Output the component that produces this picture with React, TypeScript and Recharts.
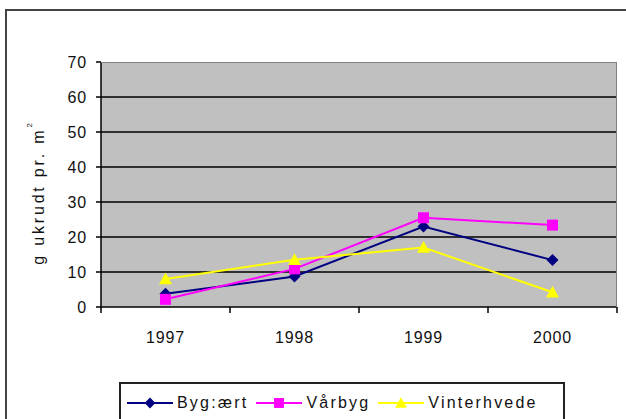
import React from "react";
import { LineChart, Line, XAxis, YAxis, CartesianGrid } from "recharts";

const years = ["1997", "1998", "1999", "2000"];
const bygAert = [3.8, 8.7, 23, 13.4];
const vaarbyg = [2.2, 10.9, 25.5, 23.4];
const vinterhvede = [8, 13.5, 17, 4.2];
const yTicks = [0, 10, 20, 30, 40, 50, 60, 70];

const FONT = "'Liberation Sans', Arial, sans-serif";

type Shape = "diamond" | "square" | "triangle";

const series: { key: string; name: string; color: string; shape: Shape }[] = [
  { key: "bygAert", name: "Byg:ært", color: "#000080", shape: "diamond" },
  { key: "vaarbyg", name: "Vårbyg", color: "#FF00FF", shape: "square" },
  { key: "vinterhvede", name: "Vinterhvede", color: "#FFFF00", shape: "triangle" },
];

const data = years.map((year, i) => ({
  year,
  bygAert: bygAert[i],
  vaarbyg: vaarbyg[i],
  vinterhvede: vinterhvede[i],
}));

function Marker({ shape, cx, cy, color, s = 1 }: { shape: Shape; cx: number; cy: number; color: string; s?: number }) {
  if (shape === "diamond") {
    const r = 6 * s;
    return <path d={`M${cx},${cy - r}L${cx + r},${cy}L${cx},${cy + r}L${cx - r},${cy}Z`} fill={color} />;
  }
  if (shape === "square") {
    const r = 5.5 * s;
    return <rect x={cx - r} y={cy - r} width={r * 2} height={r * 2} fill={color} />;
  }
  const r = 6.5 * s;
  return <path d={`M${cx},${cy - r}L${cx + r},${cy + r * 0.8}L${cx - r},${cy + r * 0.8}Z`} fill={color} />;
}

function dotFor(shape: Shape, color: string) {
  return (props: any) => {
    const { cx, cy, index } = props;
    if (cx == null || cy == null) return <g key={index} />;
    return (
      <g key={index}>
        <Marker shape={shape} cx={cx} cy={cy} color={color} />
      </g>
    );
  };
}

function XTick(props: any) {
  const { x, y, payload, index } = props;
  const half = payload?.offset || 64.5;
  return (
    <g>
      <line x1={x - half} y1={y - 8} x2={x - half} y2={y - 2} stroke="#000" strokeWidth={1.5} />
      {index === years.length - 1 && (
        <line x1={x + half} y1={y - 8} x2={x + half} y2={y - 2} stroke="#000" strokeWidth={1.5} />
      )}
      <text
        x={x}
        y={y + 22}
        textAnchor="middle"
        dominantBaseline="central"
        fill="#111"
        fontSize={16}
        fontFamily={FONT}
        letterSpacing={0.8}
      >
        {payload.value}
      </text>
    </g>
  );
}

function YTick(props: any) {
  const { x, y, payload } = props;
  return (
    <text
      x={x}
      y={y}
      textAnchor="end"
      dominantBaseline="central"
      fill="#111"
      fontSize={16}
      fontFamily={FONT}
      letterSpacing={0.8}
    >
      {payload.value}
    </text>
  );
}

function YLabel(props: any) {
  const { viewBox } = props;
  const cx = viewBox.x - 3;
  const cy = viewBox.y + viewBox.height / 2 + 8;
  return (
    <text
      x={cx}
      y={cy}
      transform={`rotate(-90 ${cx} ${cy})`}
      textAnchor="middle"
      dominantBaseline="central"
      fill="#111"
      fontSize={16}
      fontFamily={FONT}
      letterSpacing={2.8}
    >
      g ukrudt pr. m
      <tspan fontSize={8} dy={-9}>
        2
      </tspan>
    </text>
  );
}

function LegendBox() {
  return (
    <div
      style={{
        position: "absolute",
        left: 119,
        top: 382,
        width: 446,
        height: 60,
        border: "2px solid #222",
        background: "#fff",
        display: "flex",
        alignItems: "flex-start",
        paddingLeft: 6,
        paddingTop: 9,
        boxSizing: "border-box",
        fontFamily: FONT,
        fontSize: 16,
        letterSpacing: 2.2,
        color: "#111",
      }}
    >
      {series.map((s) => (
        <div key={s.key} style={{ display: "flex", alignItems: "center", marginRight: 8, height: 20 }}>
          <svg width={46} height={16} style={{ display: "block" }}>
            <line x1={0} y1={8} x2={46} y2={8} stroke={s.color} strokeWidth={2} />
            <Marker shape={s.shape} cx={23} cy={8} color={s.color} s={0.9} />
          </svg>
          <span style={{ marginLeft: 4, lineHeight: "20px" }}>{s.name}</span>
        </div>
      ))}
    </div>
  );
}

export default function App() {
  return (
    <div
      style={{
        position: "fixed",
        left: 0,
        top: 0,
        width: 626,
        height: 419,
        overflow: "hidden",
        background: "#fff",
      }}
    >
      <div
        style={{
          position: "absolute",
          left: 5,
          top: 9,
          width: 660,
          height: 460,
          border: "2px solid #444",
        }}
      />
      <LineChart
        width={626}
        height={419}
        data={data}
        margin={{ top: 62, right: 9, left: 41, bottom: 82 }}
        style={{ position: "absolute", left: 0, top: 0 }}
      >
        <CartesianGrid
          vertical={false}
          fill="#C0C0C0"
          fillOpacity={1}
          stroke="#000"
          strokeWidth={1.5}
          horizontalValues={[10, 20, 30, 40, 50, 60]}
        />
        <XAxis
          dataKey="year"
          scale="band"
          height={30}
          tickLine={false}
          axisLine={{ stroke: "#000", strokeWidth: 1.5 }}
          tick={<XTick />}
          interval={0}
        />
        <YAxis
          width={60}
          domain={[0, 70]}
          ticks={yTicks}
          interval={0}
          axisLine={{ stroke: "#000", strokeWidth: 1.5 }}
          tickLine={{ stroke: "#000", strokeWidth: 1.5 }}
          tickSize={5}
          tickMargin={9}
          tick={<YTick />}
          label={<YLabel />}
        />
        {series.map((s) => (
          <Line
            key={s.key}
            dataKey={s.key}
            name={s.name}
            type="linear"
            stroke={s.color}
            strokeWidth={2}
            dot={dotFor(s.shape, s.color)}
            activeDot={false}
            isAnimationActive={false}
          />
        ))}
      </LineChart>
      <div
        style={{
          position: "absolute",
          left: 101,
          top: 62,
          width: 516,
          height: 245,
          borderTop: "1.5px solid #808080",
          borderRight: "1.5px solid #808080",
          boxSizing: "border-box",
          pointerEvents: "none",
        }}
      />
      <LegendBox />
    </div>
  );
}
